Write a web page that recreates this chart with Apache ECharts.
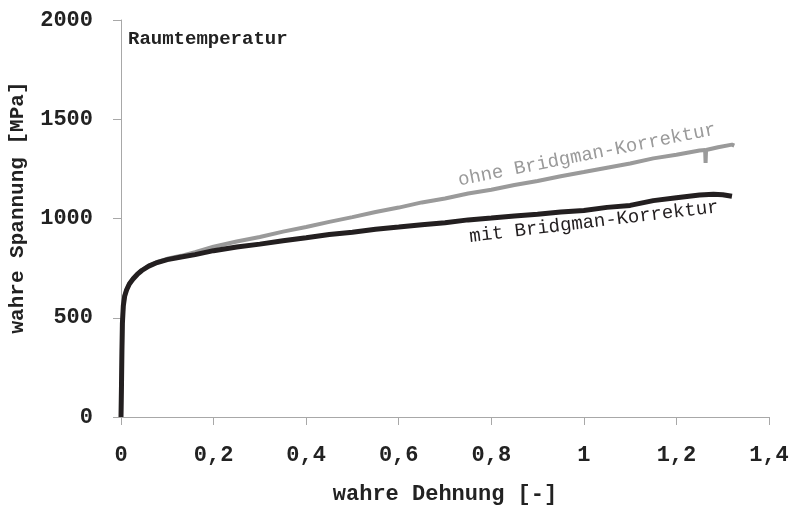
<!DOCTYPE html>
<html>
<head>
<meta charset="utf-8">
<script src="https://cdn.jsdelivr.net/npm/echarts@6/dist/echarts.min.js"></script>
<style>
  html, body { margin: 0; padding: 0; background: #fff; }
  #chart { width: 794px; height: 508px; }
</style>
</head>
<body>
<div id="chart"></div>
<script>
// true strain [-] / true stress [MPa]
var mitStrain = [0, 0.001, 0.002, 0.003, 0.005, 0.008, 0.012, 0.018, 0.026, 0.035, 0.045, 0.06, 0.078, 0.1, 0.13, 0.16, 0.2, 0.25, 0.3, 0.35, 0.4, 0.45, 0.5, 0.55, 0.6, 0.65, 0.7, 0.75, 0.8, 0.85, 0.9, 0.95, 1.0, 1.05, 1.1, 1.15, 1.2, 1.25, 1.28, 1.3, 1.32];
var mitStress = [0, 150, 330, 470, 560, 610, 640, 670, 695, 718, 738, 760, 778, 793, 806, 818, 838, 856, 871, 888, 903, 919, 931, 946, 957, 969, 979, 993, 1002, 1013, 1021, 1033, 1040, 1056, 1066, 1090, 1104, 1118, 1122, 1120, 1112];

var ohneStrain = [0, 0.001, 0.002, 0.003, 0.005, 0.008, 0.012, 0.018, 0.026, 0.035, 0.045, 0.06, 0.078, 0.1, 0.13, 0.16, 0.2, 0.25, 0.3, 0.35, 0.4, 0.45, 0.5, 0.55, 0.6, 0.65, 0.7, 0.75, 0.8, 0.85, 0.9, 0.95, 1.0, 1.05, 1.1, 1.15, 1.2, 1.25, 1.262, 1.263, 1.264, 1.29, 1.32, 1.325];
var ohneStress = [0, 150, 330, 470, 560, 612, 642, 672, 698, 720, 740, 762, 781, 797, 812, 830, 858, 884, 907, 934, 957, 983, 1007, 1033, 1055, 1081, 1101, 1126, 1145, 1169, 1189, 1213, 1234, 1256, 1277, 1303, 1321, 1343, 1345, 1280, 1345, 1359, 1372, 1367];

var xTicks = [0, 0.2, 0.4, 0.6, 0.8, 1, 1.2, 1.4];
var yTicks = [0, 500, 1000, 1500, 2000];

function pairs(xs, ys) {
  return xs.map(function (x, i) { return [x, ys[i]]; });
}

var mono = 'Liberation Mono';
var axisGray = '#a8a8a8';

var chart = echarts.init(document.getElementById('chart'), null, {renderer: 'canvas'});
var option = {
  animation: false,
  backgroundColor: '#ffffff',
  grid: { left: 121, right: 25, top: 20, bottom: 91, containLabel: false, outerBoundsMode: 'none' },
  xAxis: {
    type: 'value',
    min: xTicks[0],
    max: xTicks[xTicks.length - 1],
    interval: 0.2,
    name: 'wahre Dehnung [-]',
    nameLocation: 'middle',
    nameGap: 66,
    nameTextStyle: { fontFamily: mono, fontWeight: 'bold', fontSize: 22, color: '#222' },
    axisLine: { show: true, lineStyle: { color: axisGray, width: 1 } },
    axisTick: { show: true, length: 8, lineStyle: { color: axisGray } },
    splitLine: { show: false },
    axisLabel: {
      margin: 27,
      fontFamily: mono, fontWeight: 'bold', fontSize: 22, color: '#222',
      formatter: function (v) { return String(+v.toFixed(1)).replace('.', ','); }
    }
  },
  yAxis: {
    type: 'value',
    min: yTicks[0],
    max: yTicks[yTicks.length - 1],
    interval: 500,
    name: 'wahre Spannung [MPa]',
    nameLocation: 'middle',
    nameGap: 93,
    nameRotate: 90,
    nameTextStyle: { fontFamily: mono, fontWeight: 'bold', fontSize: 21, color: '#222', padding: [0, 0, 0, 22] },
    axisLine: { show: true, lineStyle: { color: axisGray, width: 1 } },
    axisTick: { show: true, length: 8, lineStyle: { color: axisGray } },
    splitLine: { show: false },
    axisLabel: {
      margin: 28, fontFamily: mono, fontWeight: 'bold', fontSize: 22, color: '#222',
      formatter: function (v) { return String(v); }
    }
  },
  graphic: [
    {
      type: 'text', left: 128, top: 30,
      style: { text: 'Raumtemperatur', font: 'bold 19px "Liberation Mono"', fill: '#222' }
    },
    {
      type: 'text', x: 587, y: 155, rotation: 0.196,
      style: { text: 'ohne Bridgman-Korrektur', font: '19px "Liberation Mono"', fill: '#9a9a9a', align: 'center', verticalAlign: 'middle' }
    },
    {
      type: 'text', x: 594, y: 222, rotation: 0.119,
      style: { text: 'mit Bridgman-Korrektur', font: '19px "Liberation Mono"', fill: '#231f20', align: 'center', verticalAlign: 'middle' }
    }
  ],
  series: [
    {
      name: 'ohne Bridgman-Korrektur',
      type: 'line',
      data: pairs(ohneStrain, ohneStress),
      showSymbol: false,
      lineStyle: { color: '#9a9a9a', width: 4 },
      z: 2
    },
    {
      name: 'mit Bridgman-Korrektur',
      type: 'line',
      data: pairs(mitStrain, mitStress),
      showSymbol: false,
      lineStyle: { color: '#231f20', width: 5 },
      z: 3
    }
  ]
};
chart.setOption(option);
</script>
</body>
</html>
